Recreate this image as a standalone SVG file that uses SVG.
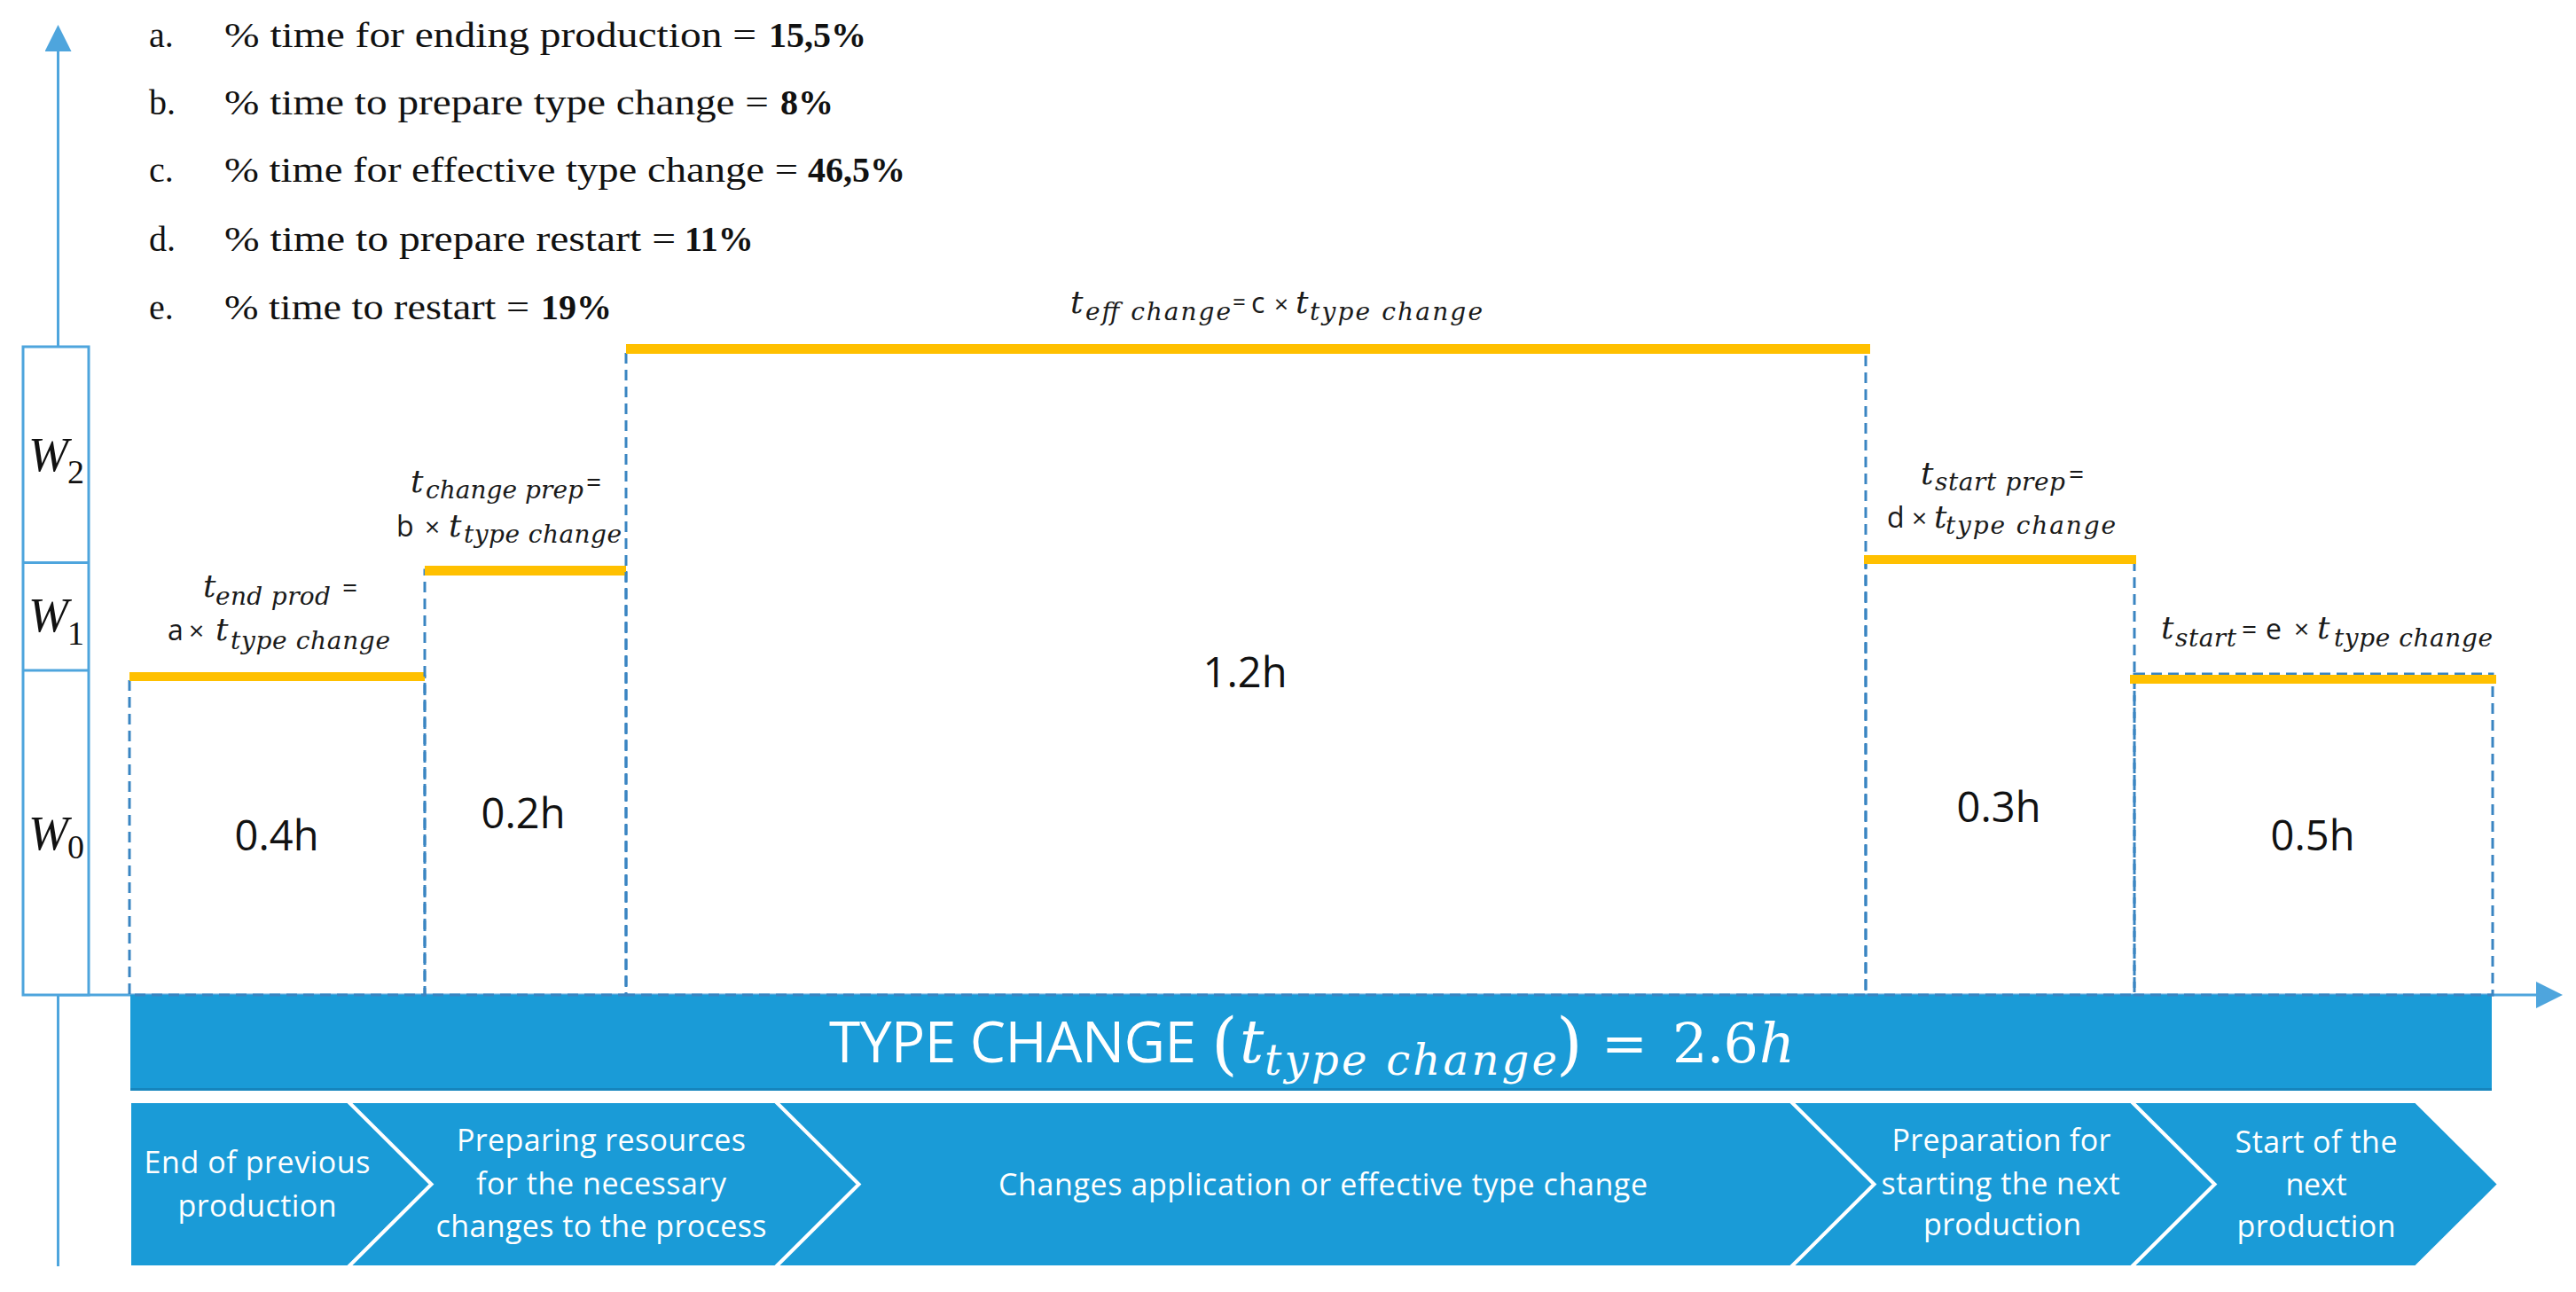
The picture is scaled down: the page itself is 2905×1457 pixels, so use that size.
<svg xmlns="http://www.w3.org/2000/svg" width="2905" height="1457" viewBox="0 0 2905 1457">
<style>
.axis{stroke:#4EA5DD;stroke-width:3;fill:none}
.wbox{fill:#fff;stroke:#4EA5DD;stroke-width:3}
.dash{fill:none;stroke:#3A85C2;stroke-width:3;stroke-dasharray:12 7}
.ybar{fill:#FFC000}
.list{font-family:"Liberation Serif",serif;font-size:40px;fill:#111}
.bold{font-weight:bold}
.w{font-family:"Liberation Serif",serif;font-style:italic;font-size:54px;fill:#111}
.wsub{font-family:"Liberation Serif",serif;font-size:38px;fill:#111}
.mi{font-family:"DejaVu Serif",serif;font-style:italic;fill:#1a1a1a}
.sans{font-family:"Open Sans",sans-serif;fill:#1a1a1a}
.dur{font-family:"Open Sans",sans-serif;font-size:47px;fill:#111;text-anchor:middle}
.chev{fill:#1A9BD7;stroke:#fff;stroke-width:2;stroke-linejoin:miter}
.ct{font-family:"Open Sans",sans-serif;font-size:34px;fill:#fff;text-anchor:middle}
.wt{fill:#fff}
</style>
<defs>
<marker id="arr" markerUnits="userSpaceOnUse" markerWidth="30" markerHeight="30" refX="0" refY="15" orient="auto">
<path d="M0,0 L30,15 L0,30 Z" fill="#4EA5DD"/>
</marker>
</defs>
<rect width="2905" height="1457" fill="#fff"/>

<g id="connectors">
<line class="axis" x1="65.5" y1="1428" x2="65.5" y2="58" marker-end="url(#arr)"/>
<line class="axis" x1="65" y1="1122" x2="2860" y2="1122" marker-end="url(#arr)"/>
</g>

<g id="legend">
<text class="list" x="168" y="53">a.</text>
<text class="list" x="253" y="53" textLength="600" lengthAdjust="spacingAndGlyphs">% time for ending production =</text>
<text class="list bold" x="867" y="53">15,5%</text>
<text class="list" x="168" y="129">b.</text>
<text class="list" x="253" y="129" textLength="614" lengthAdjust="spacingAndGlyphs">% time to prepare type change =</text>
<text class="list bold" x="880" y="129">8%</text>
<text class="list" x="168" y="205">c.</text>
<text class="list" x="253" y="205" textLength="647" lengthAdjust="spacingAndGlyphs">% time for effective type change =</text>
<text class="list bold" x="911" y="205">46,5%</text>
<text class="list" x="168" y="283">d.</text>
<text class="list" x="253" y="283" textLength="509" lengthAdjust="spacingAndGlyphs">% time to prepare restart =</text>
<text class="list bold" x="772" y="283">11%</text>
<text class="list" x="168" y="360">e.</text>
<text class="list" x="253" y="360" textLength="344" lengthAdjust="spacingAndGlyphs">% time to restart =</text>
<text class="list bold" x="610" y="360">19%</text>
</g>

<g id="w-scale">
<rect class="wbox" x="26" y="391" width="74" height="731"/>
<line class="axis" x1="26" y1="634.5" x2="100" y2="634.5"/>
<line class="axis" x1="26" y1="756" x2="100" y2="756"/>
<text class="w" x="32" y="531">W</text><text class="wsub" x="76" y="545">2</text>
<text class="w" x="32" y="712">W</text><text class="wsub" x="76" y="727">1</text>
<text class="w" x="32" y="958">W</text><text class="wsub" x="76" y="968">0</text>
</g>

<g id="type-change-bar">
<rect x="147" y="1122" width="2663" height="108" fill="#1A9BD7"/>
<rect x="147" y="1227" width="2663" height="3" fill="#1685BD"/>
<text class="wt" x="935" y="1198" font-family="'Open Sans',sans-serif" font-size="64" textLength="414">TYPE CHANGE</text>
<text class="wt" x="1366" y="1203" font-family="'DejaVu Serif',serif" font-size="76">(</text>
<text class="wt" x="1398" y="1198" font-family="'DejaVu Serif',serif" font-style="italic" font-size="68">t</text>
<text class="wt" x="1426" y="1212" font-family="'DejaVu Serif',serif" font-style="italic" font-size="48" textLength="330">type change</text>
<text class="wt" x="1755" y="1203" font-family="'DejaVu Serif',serif" font-size="76">)</text>
<text class="wt" x="1806" y="1198" font-family="'DejaVu Serif',serif" font-size="62">=</text>
<text class="wt" x="1886" y="1198" font-family="'DejaVu Serif',serif" font-size="62" textLength="97">2.6</text>
<text class="wt" x="1984" y="1198" font-family="'DejaVu Serif',serif" font-style="italic" font-size="62">h</text>
</g>

<g id="block-end-prod">
<rect class="dash" x="146" y="763" width="333" height="359"/>
<rect class="ybar" x="146" y="758" width="333" height="10"/>
<text class="mi" x="229" y="673" font-size="36">t</text>
<text class="mi" x="243" y="682" font-size="28" textLength="130">end prod</text>
<text class="sans" x="386" y="673" font-size="30">=</text>
<text class="sans" x="189" y="722" font-size="32">a</text>
<text class="sans" x="213" y="722" font-size="30">×</text>
<text class="mi" x="243" y="722" font-size="36">t</text>
<text class="mi" x="260" y="732" font-size="28" textLength="180">type change</text>
<text class="dur" x="312" y="959">0.4h</text>
</g>

<g id="block-change-prep">
<rect class="dash" x="479" y="643" width="227" height="479"/>
<rect class="ybar" x="479" y="638" width="227" height="11"/>
<text class="mi" x="463" y="555" font-size="36">t</text>
<text class="mi" x="480" y="562" font-size="28" textLength="178">change prep</text>
<text class="sans" x="661" y="554" font-size="30">=</text>
<text class="sans" x="447" y="605" font-size="32">b</text>
<text class="sans" x="479" y="605" font-size="30">×</text>
<text class="mi" x="506" y="605" font-size="36">t</text>
<text class="mi" x="523" y="612" font-size="28" textLength="178">type change</text>
<text class="dur" x="590" y="934">0.2h</text>
</g>

<g id="block-eff-change">
<rect class="dash" x="706" y="393" width="1398" height="729"/>
<rect class="ybar" x="706" y="388" width="1403" height="11"/>
<text class="mi" x="1207" y="353" font-size="36">t</text>
<text class="mi" x="1224" y="361" font-size="28" textLength="164">eff change</text>
<text class="sans" x="1390" y="350" font-size="26">=</text>
<text class="sans" x="1411" y="353" font-size="32">c</text>
<text class="sans" x="1437" y="353" font-size="28">×</text>
<text class="mi" x="1461" y="353" font-size="36">t</text>
<text class="mi" x="1477" y="361" font-size="28" textLength="195">type change</text>
<text class="dur" x="1404" y="775">1.2h</text>
</g>

<g id="block-start-prep">
<rect class="dash" x="2104" y="631" width="303" height="491"/>
<rect class="ybar" x="2102" y="626" width="307" height="10"/>
<text class="mi" x="2166" y="546" font-size="36">t</text>
<text class="mi" x="2182" y="553" font-size="28" textLength="147">start prep</text>
<text class="sans" x="2333" y="545" font-size="30">=</text>
<text class="sans" x="2128" y="595" font-size="32">d</text>
<text class="sans" x="2156" y="595" font-size="30">×</text>
<text class="mi" x="2181" y="595" font-size="36">t</text>
<text class="mi" x="2194" y="602" font-size="28" textLength="192">type change</text>
<text class="dur" x="2254" y="927">0.3h</text>
</g>

<g id="block-start">
<rect class="dash" x="2407" y="760" width="404" height="362"/>
<rect class="ybar" x="2402" y="761" width="413" height="10"/>
<text class="mi" x="2437" y="720" font-size="36">t</text>
<text class="mi" x="2453" y="729" font-size="28" textLength="69">start</text>
<text class="sans" x="2528" y="720" font-size="30">=</text>
<text class="sans" x="2555" y="721" font-size="32">e</text>
<text class="sans" x="2587" y="720" font-size="30">×</text>
<text class="mi" x="2613" y="720" font-size="36">t</text>
<text class="mi" x="2632" y="729" font-size="28" textLength="179">type change</text>
<text class="dur" x="2608" y="959">0.5h</text>
</g>

<g id="phase-1">
<path class="chev" d="M147,1243 H392 L485,1335.5 L392,1428 H147 Z"/>
<text class="ct" x="290" y="1323" textLength="255">End of previous</text>
<text class="ct" x="290" y="1372" textLength="179">production</text>
</g>
<g id="phase-2">
<path class="chev" d="M395,1243 H874 L967,1335.5 L874,1428 H395 L488,1335.5 Z"/>
<text class="ct" x="678" y="1298" textLength="326">Preparing resources</text>
<text class="ct" x="678" y="1347" textLength="282">for the necessary</text>
<text class="ct" x="678" y="1395" textLength="373">changes to the process</text>
</g>
<g id="phase-3">
<path class="chev" d="M877,1243 H2019 L2112,1335.5 L2019,1428 H877 L970,1335.5 Z"/>
<text class="ct" x="1492" y="1348" textLength="732">Changes application or effective type change</text>
</g>
<g id="phase-4">
<path class="chev" d="M2022,1243 H2403 L2496,1335.5 L2403,1428 H2022 L2115,1335.5 Z"/>
<text class="ct" x="2257" y="1298" textLength="247">Preparation for</text>
<text class="ct" x="2256" y="1347" textLength="269">starting the next</text>
<text class="ct" x="2258" y="1393" textLength="178">production</text>
</g>
<g id="phase-5">
<path class="chev" d="M2406,1243 H2724 L2817,1335.5 L2724,1428 H2406 L2499,1335.5 Z"/>
<text class="ct" x="2612" y="1300" textLength="183">Start of the</text>
<text class="ct" x="2612" y="1348" textLength="69">next</text>
<text class="ct" x="2612" y="1395" textLength="179">production</text>
</g>
</svg>
